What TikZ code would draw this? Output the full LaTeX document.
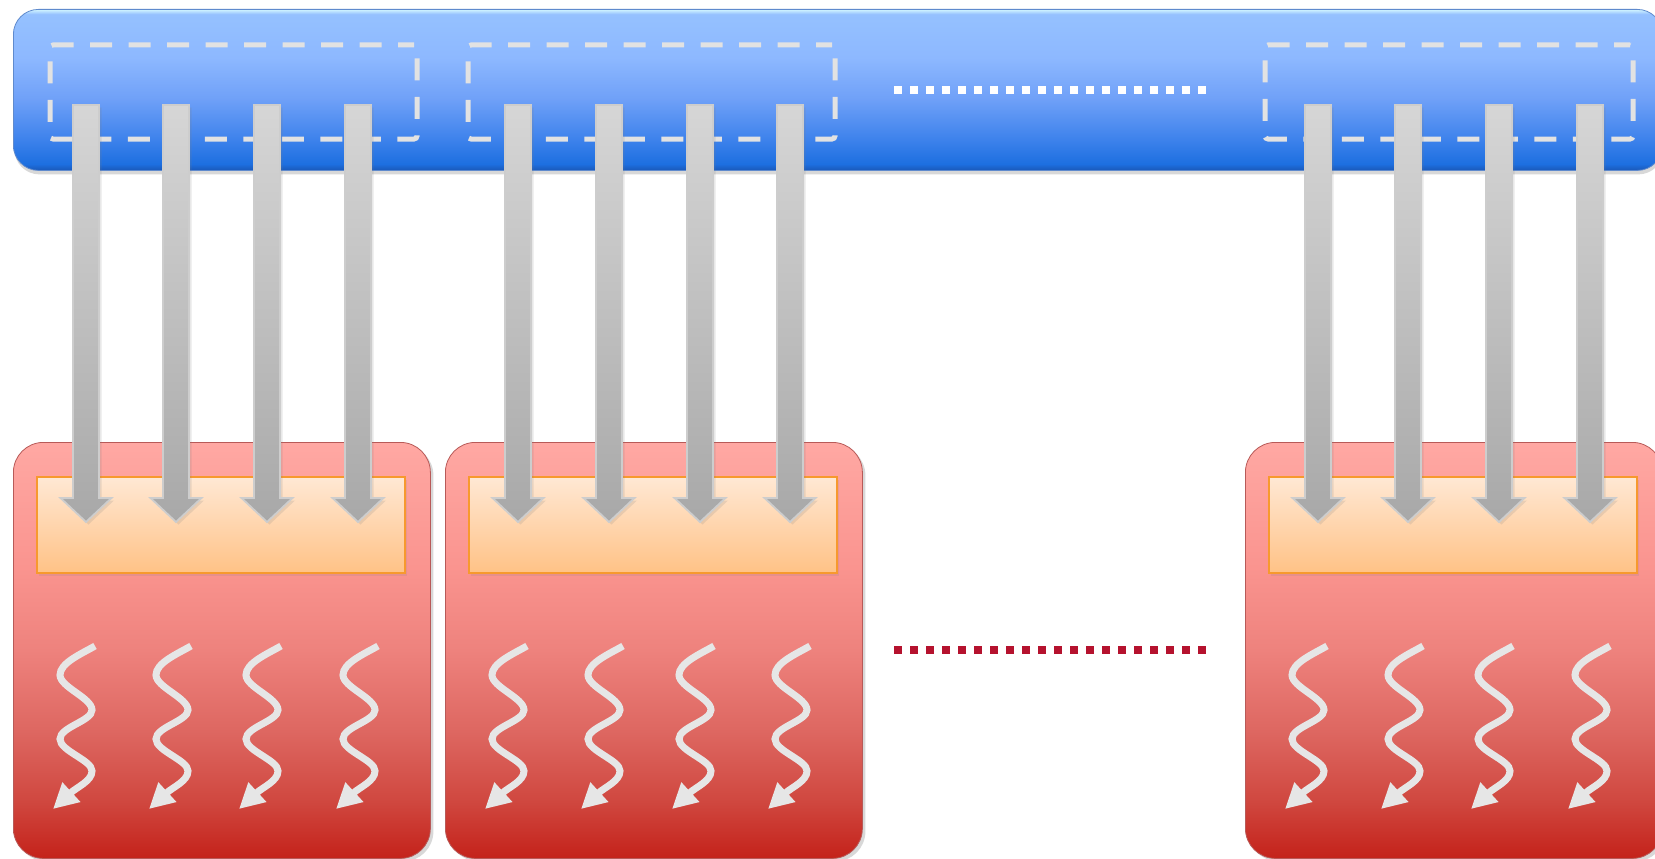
\documentclass[tikz,border=0pt]{standalone}
\usetikzlibrary{arrows.meta,shadows}
% blue bar colours
\definecolor{blA}{HTML}{D2F6FF}
\definecolor{blB}{HTML}{95C1FF}
\definecolor{blC}{HTML}{8DB8FF}
\definecolor{blD}{HTML}{70A1F8}
\definecolor{blE}{HTML}{3F83EC}
\definecolor{blF}{HTML}{1D6FE0}
\definecolor{blG}{HTML}{1A58B8}
% red box colours
\definecolor{rdA}{HTML}{FFA8A3}
\definecolor{rdB}{HTML}{FA948F}
\definecolor{rdC}{HTML}{EE827D}
\definecolor{rdD}{HTML}{DD6660}
\definecolor{rdE}{HTML}{D04840}
\definecolor{rdF}{HTML}{C4221A}
\definecolor{rdEdge}{HTML}{B85A58}
% orange
\definecolor{orTop}{HTML}{FFE8D4}
\definecolor{orBot}{HTML}{FFC286}
\definecolor{orEdge}{HTML}{F7992E}
% grey arrows
\definecolor{arTop}{HTML}{D6D6D6}
\definecolor{arBot}{HTML}{A8A8A8}
\definecolor{arEdge}{HTML}{CDCDCD}
% misc
\definecolor{sqCol}{HTML}{E6E6E6}
\definecolor{dashCol}{HTML}{E2E2E2}
\definecolor{dotRed}{HTML}{B5122E}
\pgfdeclareverticalshading{bluebarshade}{100bp}{color(0bp)=(blG); color(25bp)=(blG); color(27bp)=(blF); color(35bp)=(blE); color(47.5bp)=(blD); color(60bp)=(blC); color(73.5bp)=(blB); color(75bp)=(blA); color(100bp)=(blA)}
\pgfdeclareverticalshading{redboxshade}{100bp}{color(0bp)=(rdF); color(25bp)=(rdF); color(32bp)=(rdE); color(40bp)=(rdD); color(50bp)=(rdC); color(60bp)=(rdB); color(75bp)=(rdA); color(100bp)=(rdA)}
\begin{document}
\begin{tikzpicture}[x=1pt,y=-1pt,
  busbox/.style={shading=bluebarshade, draw=blG!70, line width=0.8pt, rounded corners=25pt,
    inner sep=0pt, anchor=north west, minimum width=1649pt, minimum height=161pt,
    drop shadow={shadow xshift=1pt, shadow yshift=-4pt, opacity=0.3}},
  corebox/.style={shading=redboxshade, draw=rdEdge, line width=0.8pt, rounded corners=30pt,
    inner sep=0pt, anchor=north west, minimum width=417pt, minimum height=416pt,
    drop shadow={shadow xshift=3pt, shadow yshift=-3pt, opacity=0.3}},
  bufbox/.style={top color=orTop, bottom color=orBot, draw=orEdge, line width=2pt,
    inner sep=0pt, anchor=north west, minimum width=368pt, minimum height=96pt,
    drop shadow={shadow xshift=2pt, shadow yshift=-3pt, opacity=0.15}},
  grpbox/.style={draw=dashCol, line width=5pt, dash pattern=on 22pt off 16.5pt, dash phase=6pt,
    rounded corners=3pt, inner sep=0pt, anchor=north west, minimum width=367pt, minimum height=94pt},
  grayarrow/.style={top color=arTop, bottom color=arBot, draw=arEdge, line width=1.8pt,
    drop shadow={shadow xshift=2.5pt, shadow yshift=-2.5pt, opacity=0.18}},
  squig/.style={draw=sqCol, line width=7pt, -{Triangle[length=25pt,width=25pt]}},
  dotline/.style={line width=8pt, dash pattern=on 8pt off 8pt}
]
\clip (0,0) rectangle (1655,859);
\fill[white] (0,0) rectangle (1655,859);

% top bus
\node[busbox] (bus) at (13,9) {};
% dashed groups
\node[grpbox] (grp1) at (47.5,42.5) {};
\node[grpbox] (grp2) at (465.5,42.5) {};
\node[grpbox, minimum width=368pt] (grp3) at (1262.5,42.5) {};
\draw[dotline, white] (894,90) -- (1206,90);

% cores
\node[corebox] (core1) at (13,442) {};
\node[corebox] (core2) at (445,442) {};
\node[corebox] (core3) at (1245,442) {};
% buffers
\node[bufbox] (buf1) at (36,476) {};
\node[bufbox] (buf2) at (468,476) {};
\node[bufbox] (buf3) at (1268,476) {};
\draw[dotline, dotRed] (894,650) -- (1206,650);

% grey arrows from bus to buffers
\foreach \x in {86,176,267,358,518,609,700,790,1318,1408,1499,1590}{
  \path[grayarrow] ({\x-13},105) -- ({\x+13},105) -- ({\x+13},498) -- ({\x+25.5},498)
    -- (\x,522) -- ({\x-25.5},498) -- ({\x-13},498) -- cycle;
}

% wavy thread arrows
\foreach \c in {76,172,262,359,508,604,695,791,1308,1404,1494,1591}{
  \draw[squig] ({\c+19},646) .. controls ({\c+5},654) and ({\c-16},663) .. ({\c-16},675)
    .. controls ({\c-16},687) and ({\c+16},698) .. ({\c+16},710)
    .. controls ({\c+16},721) and ({\c-16},727) .. ({\c-16},739)
    .. controls ({\c-16},751) and ({\c+16},760) .. ({\c+16},771)
    .. controls ({\c+16},781) and ({\c+1},787) .. ({\c-23},809);
}
\end{tikzpicture}
\end{document}
